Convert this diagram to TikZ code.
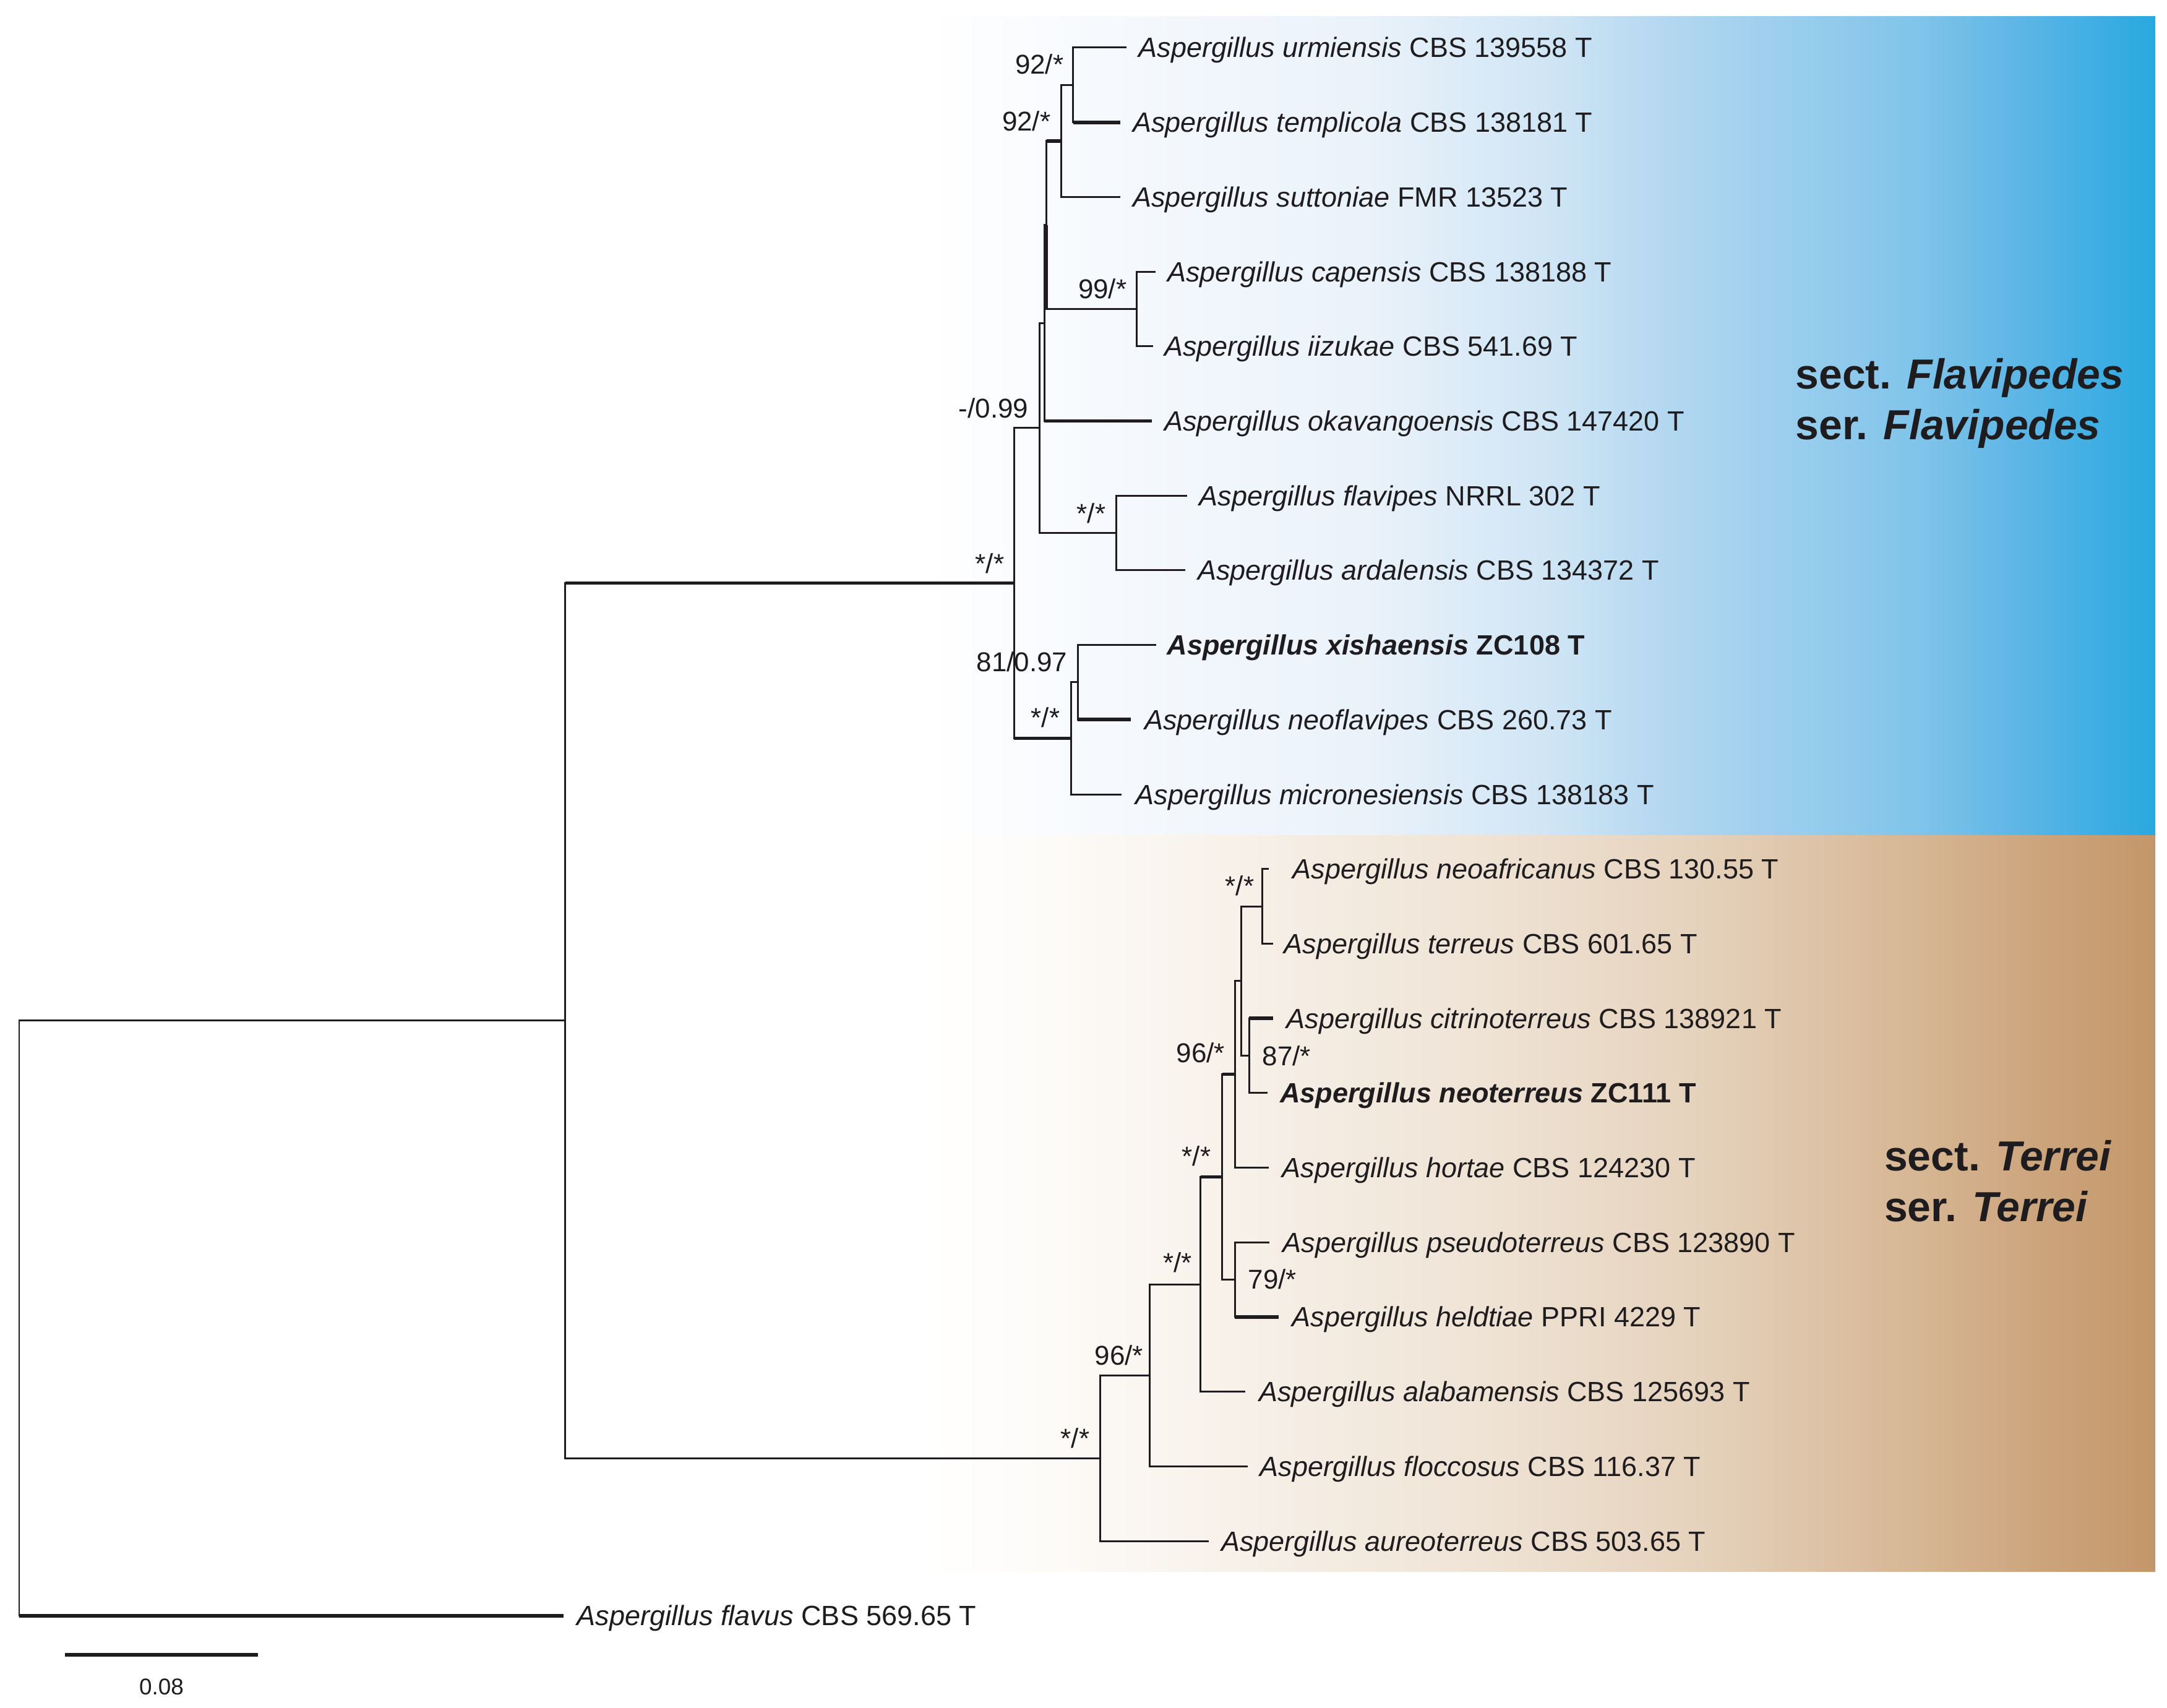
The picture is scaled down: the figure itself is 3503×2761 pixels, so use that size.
\documentclass[tikz,border=0pt]{standalone}
\usepackage{fontspec}
\setmainfont{Liberation Sans}
\definecolor{ink}{RGB}{30,28,30}
\definecolor{bA}{RGB}{246,249,253}
\definecolor{bB}{RGB}{234,242,250}
\definecolor{bC}{RGB}{207,229,245}
\definecolor{bD}{RGB}{179,215,240}
\definecolor{bE}{RGB}{128,196,234}
\definecolor{bF}{RGB}{93,182,230}
\definecolor{bG}{RGB}{41,168,224}
\definecolor{tA}{RGB}{253,251,248}
\definecolor{tB}{RGB}{239,227,213}
\definecolor{tC}{RGB}{229,210,188}
\definecolor{tD}{RGB}{212,178,142}
\definecolor{tE}{RGB}{204,165,125}
\definecolor{tF}{RGB}{196,151,106}
\pgfdeclarehorizontalshading{blueshade}{100bp}{color(0bp)=(white); color(25bp)=(white); color(32.5bp)=(bA); color(43bp)=(bB); color(50.5bp)=(bC); color(55.25bp)=(bD); color(65.35bp)=(bE); color(69.45bp)=(bF); color(75bp)=(bG); color(100bp)=(bG)}
\pgfdeclarehorizontalshading{tanshade}{100bp}{color(0bp)=(white); color(25bp)=(white); color(30bp)=(tA); color(47.75bp)=(tB); color(56.5bp)=(tC); color(66.55bp)=(tD); color(70.15bp)=(tE); color(75bp)=(tF); color(100bp)=(tF)}
\begin{document}
\begin{tikzpicture}[x=0.01cm,y=-0.01cm,
  br/.style={draw=ink, line width=0.85pt, line join=miter},
  brk/.style={draw=ink, line width=1.6pt},
  sp/.style={font=\fontsize{12.5}{15}\selectfont, text=ink, inner sep=0pt, anchor=base east},
  spw/.style={font=\fontsize{12.5}{15}\selectfont, text=ink, inner sep=0pt, anchor=base west},
  tx/.style={font=\fontsize{12.8}{15}\selectfont, text=ink, inner sep=0pt, anchor=base west},
  clade/.style={font=\fontsize{19.3}{23}\selectfont\bfseries, text=ink, inner sep=0pt, anchor=base west}]
\useasboundingbox (0,0) rectangle (3503,2761);
\fill[white] (0,0) rectangle (3503,2761);
\shade[shading=blueshade] (1497,27) rectangle (3484,1350);
\shade[shading=tanshade] (1497,1350) rectangle (3484,2540);

% leaf ends
\coordinate (l0) at (1821,77);
\coordinate (l1) at (1811,197.7);
\coordinate (l2) at (1811,318.4);
\coordinate (l3) at (1868,439.1);
\coordinate (l4) at (1864,559.8);
\coordinate (l5) at (1862,680.5);
\coordinate (l6) at (1919,801.2);
\coordinate (l7) at (1916,921.9);
\coordinate (l8) at (1869,1042.6);
\coordinate (l9) at (1828,1163.3);
\coordinate (l10) at (1812.5,1284);
\coordinate (l11) at (2051,1404.7);
\coordinate (l12) at (2058,1525.4);
\coordinate (l13) at (2058,1646.1);
\coordinate (l14) at (2049,1766.8);
\coordinate (l15) at (2051,1887.5);
\coordinate (l16) at (2051.5,2008.2);
\coordinate (l17) at (2067,2128.9);
\coordinate (l18) at (2013,2249.6);
\coordinate (l19) at (2017,2370.3);
\coordinate (l20) at (1953.6,2491);
\coordinate (l21) at (911,2611.7);

% internal nodes
\coordinate (nut) at (1734.5,137.35);
\coordinate (nuts) at (1715,227.9);
\coordinate (nci) at (1837,499.45);
\coordinate (A1) at (1691.5,363.7);
\coordinate (A2) at (1688,522.1);
\coordinate (nfa) at (1804,861.55);
\coordinate (B) at (1680.5,691.8);
\coordinate (nxn) at (1742,1102.95);
\coordinate (nxnm) at (1731,1193.5);
\coordinate (FL) at (1639,942.65);
\coordinate (nnt) at (2040,1465);
\coordinate (ncn) at (2019,1706.45);
\coordinate (C) at (2006.5,1585.7);
\coordinate (D) at (1996,1736.6);
\coordinate (nph) at (1996.4,2068.55);
\coordinate (E) at (1975.5,1902.6);
\coordinate (F) at (1940.6,2076.1);
\coordinate (G) at (1858.7,2223.2);
\coordinate (H) at (1778,2357.1);
\coordinate (TR) at (913.7,1649.9);
\coordinate (root) at (31,2130.8);

% branches
\draw[br] (root) |- (TR);
\draw[br] (root) |- (l21);
\draw[brk] (root |- l21) -- (l21);
\draw[br] (TR) |- (FL);
\draw[brk] (TR |- FL) -- (FL);
\draw[br] (TR) |- (H);
\draw[br] (FL) |- (B);
\draw[br] (FL) |- (nxnm);
\draw[brk] (FL |- nxnm) -- (nxnm);
\draw[br] (B) |- (A2);
\draw[br] (B) |- (nfa);
\draw[br] (A2) |- (A1);
\draw[br] (A2) |- (l5);
\draw[brk] (A2 |- l5) -- (l5);
\draw[br] (A1) |- (nuts);
\draw[brk] (A1 |- nuts) -- (nuts);
\draw[br] (A1) |- (nci);
\draw[brk] (A1) -- (A1 |- nci);
\draw[br] (nuts) |- (nut);
\draw[br] (nuts) |- (l2);
\draw[br] (nut) |- (l0);
\draw[br] (nut) |- (l1);
\draw[brk] (nut |- l1) -- (l1);
\draw[br] (nci) |- (l3);
\draw[br] (nci) |- (l4);
\draw[br] (nfa) |- (l6);
\draw[br] (nfa) |- (l7);
\draw[br] (nxnm) |- (nxn);
\draw[br] (nxnm) |- (l10);
\draw[br] (nxn) |- (l8);
\draw[br] (nxn) |- (l9);
\draw[brk] (nxn |- l9) -- (l9);
\draw[br] (H) |- (G);
\draw[br] (H) |- (l20);
\draw[br] (G) |- (F);
\draw[br] (G) |- (l19);
\draw[br] (F) |- (E);
\draw[brk] (F |- E) -- (E);
\draw[br] (F) |- (l18);
\draw[br] (E) |- (D);
\draw[brk] (E |- D) -- (D);
\draw[br] (E) |- (nph);
\draw[br] (D) |- (C);
\draw[br] (D) |- (l15);
\draw[br] (C) |- (nnt);
\draw[br] (C) |- (ncn);
\draw[br] (nnt) |- (l11);
\draw[br] (nnt) |- (l12);
\draw[br] (ncn) |- (l13);
\draw[brk] (ncn |- l13) -- (l13);
\draw[br] (ncn) |- (l14);
\draw[br] (nph) |- (l16);
\draw[br] (nph) |- (l17);
\draw[brk] (nph |- l17) -- (l17);

% leaf labels
\node[tx] (t0) at (1840,93) {\textit{Aspergillus urmiensis} CBS 139558 T};
\node[tx] (t1) at (1830.6,213.7) {\textit{Aspergillus templicola} CBS 138181 T};
\node[tx] (t2) at (1830.6,334.4) {\textit{Aspergillus suttoniae} FMR 13523 T};
\node[tx] (t3) at (1886.7,455.1) {\textit{Aspergillus capensis} CBS 138188 T};
\node[tx] (t4) at (1881.6,575.8) {\textit{Aspergillus iizukae} CBS 541.69 T};
\node[tx] (t5) at (1881.6,696.5) {\textit{Aspergillus okavangoensis} CBS 147420 T};
\node[tx] (t6) at (1938,817.2) {\textit{Aspergillus flavipes} NRRL 302 T};
\node[tx] (t7) at (1935.6,937.9) {\textit{Aspergillus ardalensis} CBS 134372 T};
\node[tx] (t8) at (1885.9,1058.6) {\textbf{\textit{Aspergillus xishaensis} ZC108 T}};
\node[tx] (t9) at (1849.5,1179.3) {\textit{Aspergillus neoflavipes} CBS 260.73 T};
\node[tx] (t10) at (1834.8,1300) {\textit{Aspergillus micronesiensis} CBS 138183 T};
\node[tx] (t11) at (2089,1420.7) {\textit{Aspergillus neoafricanus} CBS 130.55 T};
\node[tx] (t12) at (2075,1541.4) {\textit{Aspergillus terreus} CBS 601.65 T};
\node[tx] (t13) at (2078.8,1662.1) {\textit{Aspergillus citrinoterreus} CBS 138921 T};
\node[tx] (t14) at (2068.3,1782.8) {\textbf{\textit{Aspergillus neoterreus} ZC111 T}};
\node[tx] (t15) at (2071.8,1903.5) {\textit{Aspergillus hortae} CBS 124230 T};
\node[tx] (t16) at (2073,2024.2) {\textit{Aspergillus pseudoterreus} CBS 123890 T};
\node[tx] (t17) at (2088,2144.9) {\textit{Aspergillus heldtiae} PPRI 4229 T};
\node[tx] (t18) at (2034.7,2265.6) {\textit{Aspergillus alabamensis} CBS 125693 T};
\node[tx] (t19) at (2036.2,2386.3) {\textit{Aspergillus floccosus} CBS 116.37 T};
\node[tx] (t20) at (1973.5,2507) {\textit{Aspergillus aureoterreus} CBS 503.65 T};
\node[tx] (t21) at (932,2627.7) {\textit{Aspergillus flavus} CBS 569.65 T};

% support values
\node[sp] (s1) at (1720,120) {92/*};
\node[sp] (s2) at (1699,212) {92/*};
\node[sp] (s3) at (1822,482) {99/*};
\node[sp] (s4) at (1663,675) {-/0.99};
\node[sp] (s5) at (1788,845) {*/*};
\node[sp] (s6) at (1624,926) {*/*};
\node[sp] (s7) at (1726,1085) {81/0.97};
\node[sp] (s8) at (1714,1175) {*/*};
\node[sp] (s9) at (2028,1447) {*/*};
\node[sp] (s10) at (1980.6,1717) {96/*};
\node[spw] (s11) at (2040,1722) {87/*};
\node[sp] (s12) at (1958,1884) {*/*};
\node[spw] (s13) at (2017,2083) {79/*};
\node[sp] (s14) at (1927.5,2056) {*/*};
\node[sp] (s15) at (1848.7,2206) {96/*};
\node[sp] (s16) at (1762,2340) {*/*};

% clade labels
\node[clade] (cf1) at (2902,628) {sect. \textit{Flavipedes}};
\node[clade] (cf2) at (2902,710) {ser. \textit{Flavipedes}};
\node[clade] (ct1) at (3045.5,1892) {sect. \textit{Terrei}};
\node[clade] (ct2) at (3045.5,1974) {ser. \textit{Terrei}};

% scale bar
\coordinate (sb1) at (105,2675);
\coordinate (sb2) at (417,2675);
\draw[brk] (sb1) -- (sb2);
\node[font=\fontsize{10.5}{12}\selectfont, text=ink, inner sep=0pt] (sbl) at (261,2727) {0.08};
\end{tikzpicture}
\end{document}
